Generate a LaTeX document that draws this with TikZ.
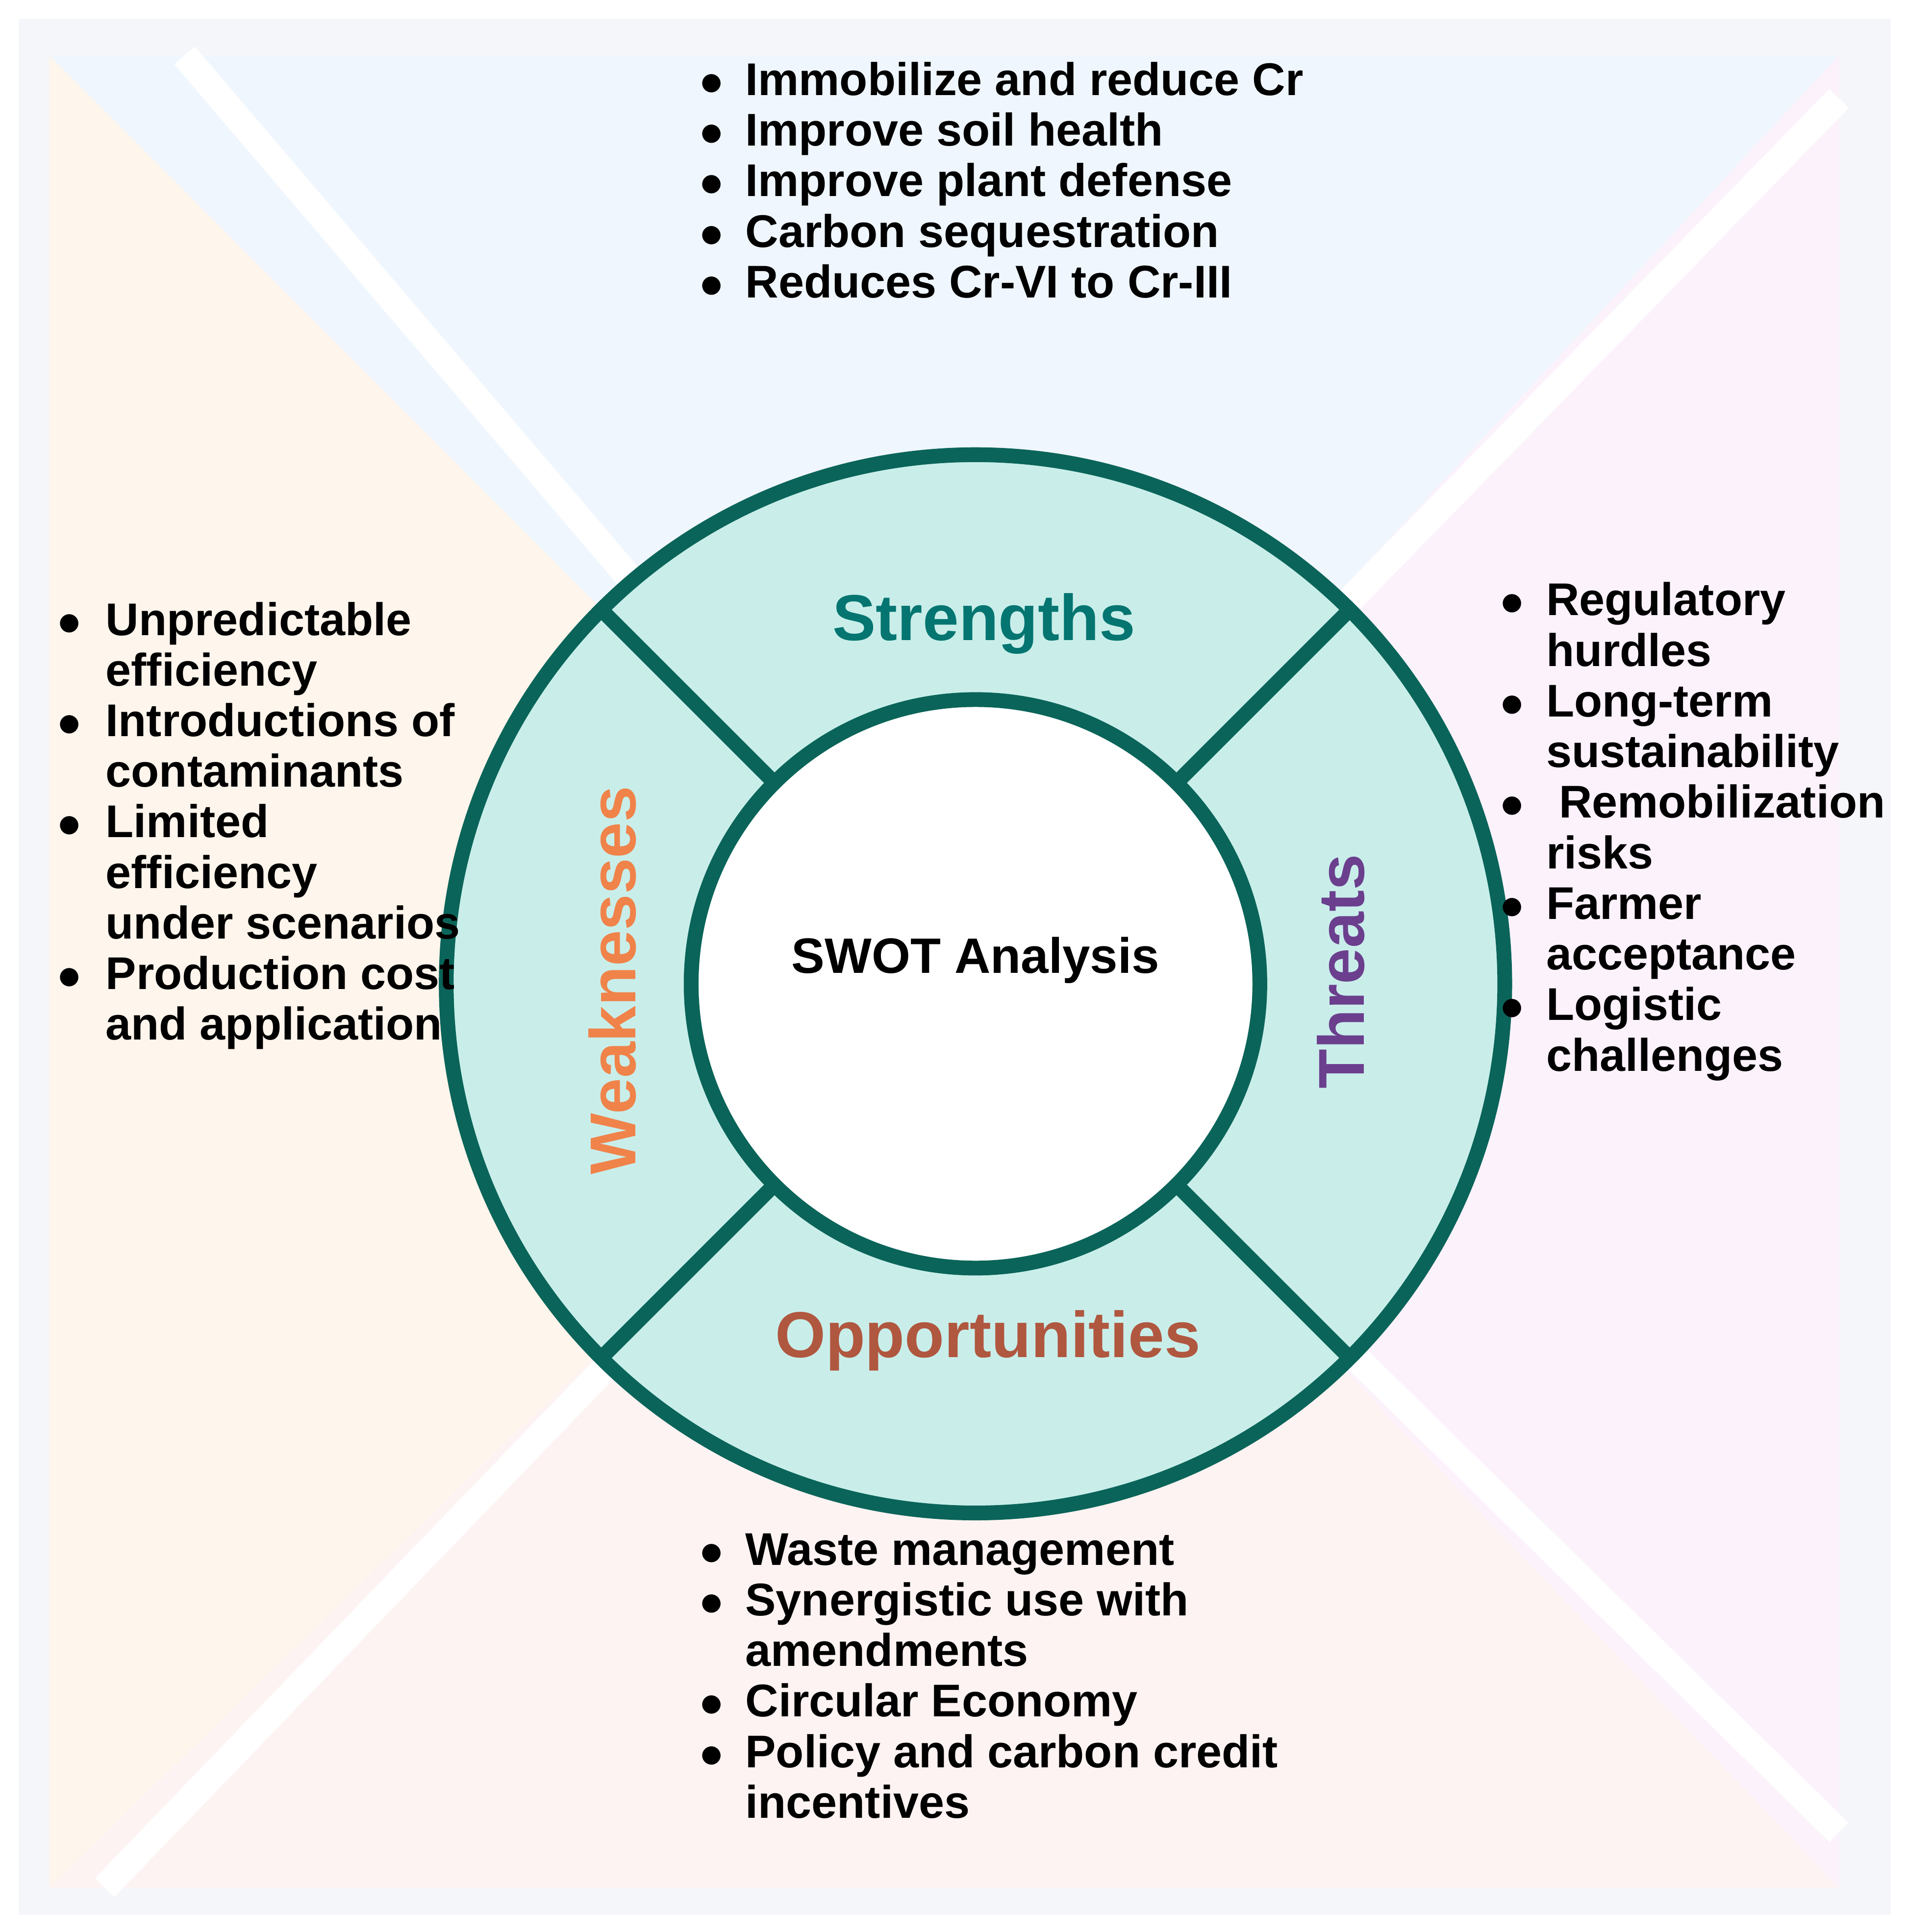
\documentclass[tikz,border=0pt]{standalone}
\usepackage{fontspec}
\setmainfont{Liberation Sans}
\usetikzlibrary{calc}
\begin{document}
\begin{tikzpicture}[x=0.01cm,y=-0.01cm,
  lst/.style={anchor=north west,inner sep=0pt,font=\fontsize{10.6}{11.7}\selectfont\bfseries},
  lab/.style={font=\fontsize{15}{18}\selectfont\bfseries}]
\definecolor{ringc}{HTML}{0A6459}
\definecolor{ringf}{HTML}{C9EEEA}
\definecolor{bgc}{HTML}{F4F6FA}
\definecolor{qt}{HTML}{EFF6FD}
\definecolor{ql}{HTML}{FEF5EC}
\definecolor{qr}{HTML}{FCF2FC}
\definecolor{qb}{HTML}{FDF3F2}
\useasboundingbox (0,0) rectangle (1550,1571);
\fill[white] (0,0) rectangle (1550,1571);
\fill[bgc] (15,15) rectangle (1537,1557);
\coordinate (c) at (793,800);
\fill[qt] (40,45) -- (1495,45) -- (c) -- cycle;
\fill[ql] (40,45) -- (c) -- (40,1535) -- cycle;
\fill[qr] (1495,45) -- (1495,1535) -- (c) -- cycle;
\fill[qb] (40,1535) -- (c) -- (1495,1535) -- cycle;
\draw[white,line width=0.22cm] (150,45) -- (c) -- (1495,80);
\draw[white,line width=0.22cm] (85,1535) -- (c) -- (1495,1490);
% ring
\fill[ringf] (c) circle[radius=4.3cm];
\fill[white] (c) circle[radius=2.31cm];
\draw[ringc,line width=0.12cm] (c) circle[radius=4.3cm];
\draw[ringc,line width=0.12cm] (c) circle[radius=2.31cm];
\foreach \a in {45,135,225,315}
  \draw[ringc,line width=0.12cm] ($(c)+(\a:2.31cm)$) -- ($(c)+(\a:4.3cm)$);
\node[lab,text=teal!60!ringc] (s) at (800,507) {Strengths};
\node[lab,text={rgb,255:red,240;green,131;blue,74},rotate=90] (w) at (498,797) {Weaknesses};
\node[lab,text={rgb,255:red,107;green,63;blue,142},rotate=90] (t) at (1090,790) {Threats};
\node[lab,text={rgb,255:red,176;green,87;blue,63}] (o) at (803,1090) {Opportunities};
\node[font=\fontsize{11.5}{14}\selectfont\bfseries] (swot) at (793,781) {SWOT Analysis};
% lists
\node[lst] (ls) at (568,48) {\begin{tabular}{@{}l@{\hspace{0.18cm}}l@{}}
$\bullet$ & Immobilize and reduce Cr\\
$\bullet$ & Improve soil health\\
$\bullet$ & Improve plant defense\\
$\bullet$ & Carbon sequestration\\
$\bullet$ & Reduces Cr-VI to Cr-III
\end{tabular}};
\node[lst] (lw) at (46,487) {\begin{tabular}{@{}l@{\hspace{0.2cm}}l@{}}
$\bullet$ & Unpredictable\\
 & efficiency\\
$\bullet$ & Introductions of\\
 & contaminants\\
$\bullet$ & Limited\\
 & efficiency\\
 & under scenarios\\
$\bullet$ & Production cost\\
 & and application
\end{tabular}};
\node[lst] (lt) at (1219,471) {\begin{tabular}{@{}l@{\hspace{0.18cm}}l@{}}
$\bullet$ & Regulatory\\
 & hurdles\\
$\bullet$ & Long-term\\
 & sustainability\\
$\bullet$ & \ Remobilization\\
 & risks\\
$\bullet$ & Farmer\\
 & acceptance\\
$\bullet$ & Logistic\\
 & challenges
\end{tabular}};
\node[lst] (lo) at (568,1243) {\begin{tabular}{@{}l@{\hspace{0.18cm}}l@{}}
$\bullet$ & Waste management\\
$\bullet$ & Synergistic use with\\
 & amendments\\
$\bullet$ & Circular Economy\\
$\bullet$ & Policy and carbon credit\\
 & incentives
\end{tabular}};
\end{tikzpicture}
\end{document}
